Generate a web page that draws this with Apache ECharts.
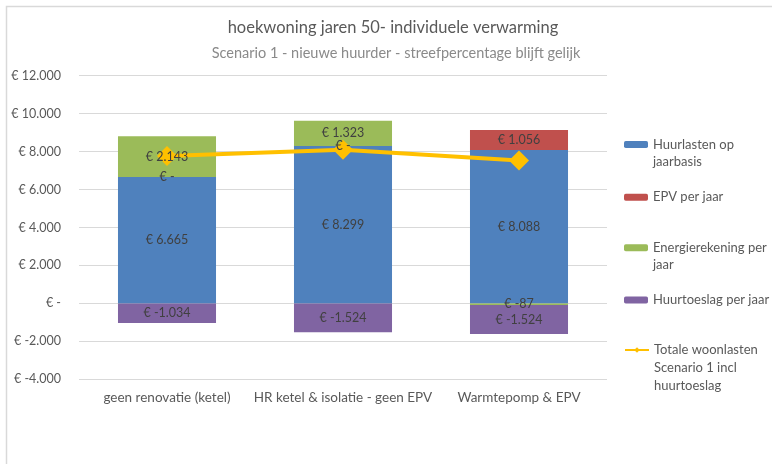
<!DOCTYPE html>
<html>
<head>
<meta charset="utf-8">
<script src="https://cdn.jsdelivr.net/npm/echarts/dist/echarts.min.js"></script>
<style>
  html, body { margin: 0; padding: 0; background: #fff; }
  #chart { width: 772px; height: 464px; }
</style>
</head>
<body>
<div id="chart"></div>
<script>
// data
var categories = ["geen renovatie (ketel)", "HR ketel & isolatie - geen EPV", "Warmtepomp & EPV"]
var huurlasten = [6665, 8299, 8088]
var epv = [0, 0, 1056]
var energierekening = [2143, 1323, -87]
var huurtoeslag = [-1034, -1524, -1524]
var totaal = [7774, 8098, 7533]

var names = ["Huurlasten op\njaarbasis", "EPV per jaar", "Energierekening per\njaar", "Huurtoeslag per jaar"]
var colors = ["#4f81bd", "#c0504d", "#9bbb59", "#8064a2"]
var stacks = [huurlasten, epv, energierekening, huurtoeslag]
var lineName = "Totale woonlasten\nScenario 1 incl\nhuurtoeslag"

var txt = "#595959"
var font = "Lato"

function euro(v){
    if (v === 0) return "€ -"
    var s = Math.abs(v).toString().replace(/\B(?=(\d{3})+(?!\d))/g, ".")
    return "€ " + (v < 0 ? "-" : "") + s
}

function barSeries(name, data, color){
    return {
        name: name,
        type: "bar",
        stack: "a",
        barWidth: "55.7%",
        barGap: "-100%",
        itemStyle: { color: color },
        data: data
    }
}

// same stack again, invisible, only to put the labels above the line (as excel does)
function labelSeries(name, data){
    return {
        name: "lbl " + name,
        type: "bar",
        stack: "lbl",
        barWidth: "55.7%",
        barGap: "-100%",
        z: 5,
        silent: true,
        itemStyle: { color: "rgba(0,0,0,0)" },
        label: {
            show: true,
            position: "inside",
            color: "#404040",
            fontSize: 12.5,
            fontFamily: font,
            formatter: function(p){ return euro(p.value) }
        },
        data: data
    }
}

// one legend per item so every entry sits where excel put it,
// blank lines in front keep the swatch level with the first line
function legendItem(name, top, lines, lh){
    return {
        data: [name],
        orient: "vertical",
        left: 624,
        top: top,
        padding: 0,
        itemWidth: 24,
        itemHeight: 7,
        formatter: function(n){ return new Array(lines).join("\n") + n },
        textStyle: { color: txt, fontSize: 13, fontFamily: font, lineHeight: lh }
    }
}

var series = []
stacks.forEach(function(d, i){ series.push(barSeries(names[i], d, colors[i])) })
series.push({
    name: lineName,
    type: "line",
    data: totaal,
    symbol: "diamond",
    symbolSize: 20,
    z: 3,
    lineStyle: { color: "#ffc000", width: 4 },
    itemStyle: { color: "#ffc000" }
})
stacks.forEach(function(d, i){ series.push(labelSeries(names[i], d)) })

var chart = echarts.init(document.getElementById("chart"))
var option = {
    animation: false,
    textStyle: { fontFamily: font },
    title: [
        { text: "hoekwoning jaren 50- individuele verwarming", left: 393, textAlign: "center", top: 19, padding: 0,
          textStyle: { color: txt, fontSize: 16.5, fontWeight: "normal", fontFamily: font } },
        { text: "Scenario 1 - nieuwe huurder - streefpercentage blijft gelijk", left: 396, textAlign: "center", top: 46, padding: 0,
          textStyle: { color: "#8a8a8a", fontSize: 14.5, fontWeight: "normal", fontFamily: font } }
    ],
    graphic: [{
        type: "rect",
        shape: { x: 6.5, y: 6.5, width: 800, height: 500 },
        style: { fill: "none", stroke: "#d9d9d9", lineWidth: 1.5 },
        silent: true
    }],
    legend: [
        legendItem(names[0], 119, 2, 17),
        legendItem(names[1], 188.8, 1, 17),
        legendItem(names[2], 222.2, 2, 17),
        legendItem(names[3], 291.5, 1, 17),
        legendItem(lineName, 305, 3, 18)
    ],
    grid: { left: 79, right: 165, top: 75.7, bottom: 84.7 },
    xAxis: {
        type: "category",
        data: categories,
        axisLine: { show: false, onZero: false },
        axisTick: { show: false },
        axisLabel: { color: txt, fontSize: 13.5, fontFamily: font, margin: 11, interval: 0, hideOverlap: false }
    },
    yAxis: {
        type: "value",
        min: -4000,
        max: 12000,
        interval: 2000,
        axisLine: { show: false },
        axisTick: { show: false },
        splitLine: { lineStyle: { color: "#d9d9d9" } },
        axisLabel: {
            color: txt, fontSize: 12.5, fontFamily: font, margin: 18,
            formatter: function(v){ return euro(v) }
        }
    },
    series: series
}
chart.setOption(option)
</script>
</body>
</html>
